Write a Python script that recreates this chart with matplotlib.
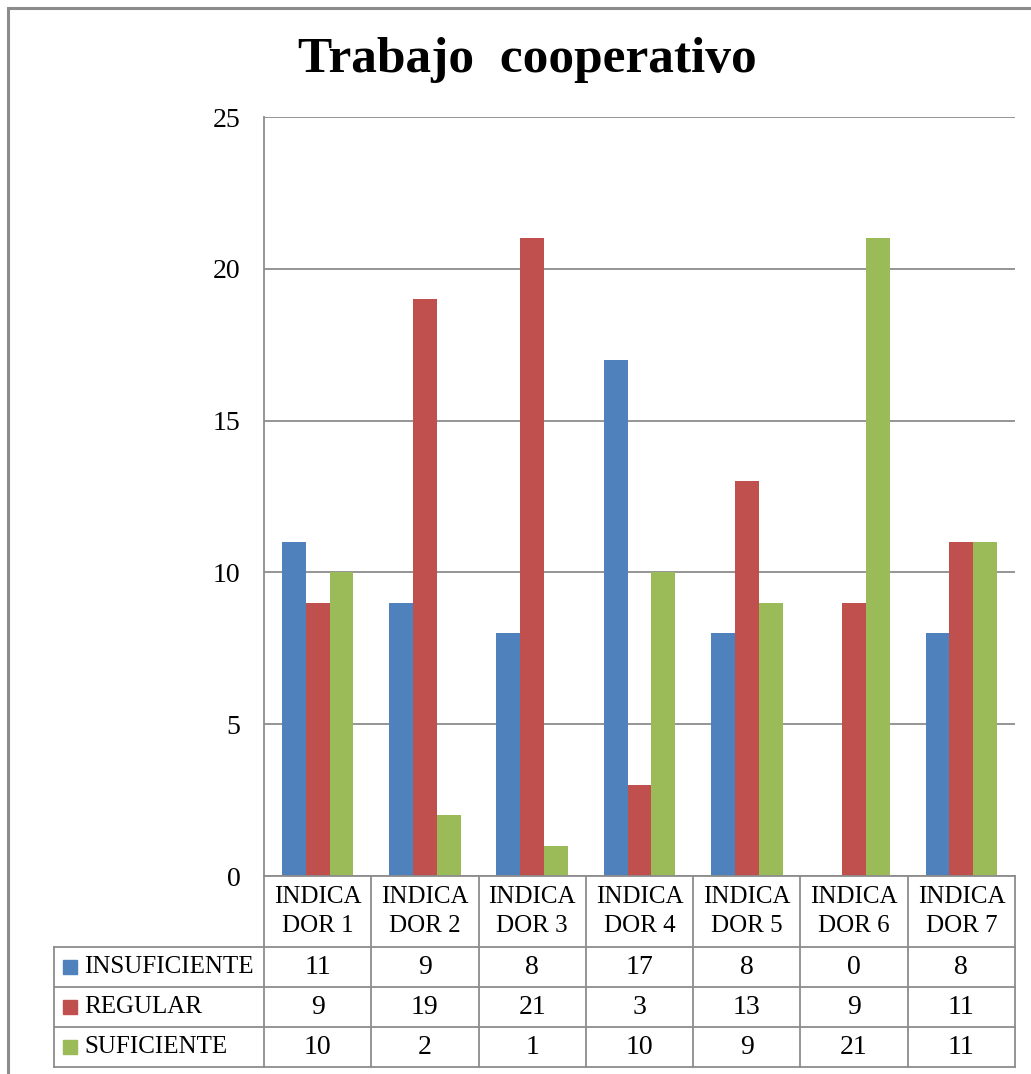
import matplotlib
matplotlib.use("Agg")
import matplotlib.pyplot as plt
import matplotlib.patches as mpatches
import numpy as np

# data
categories = ["INDICADOR 1", "INDICADOR 2", "INDICADOR 3", "INDICADOR 4",
              "INDICADOR 5", "INDICADOR 6", "INDICADOR 7"]
series_names = ["INSUFICIENTE", "REGULAR", "SUFICIENTE"]
insuficiente = [11, 9, 8, 17, 8, 0, 8]
regular = [9, 19, 21, 3, 13, 9, 11]
suficiente = [10, 2, 1, 10, 9, 21, 11]
colors = ["#4F81BD", "#C0504D", "#9BBB59"]
yticks = [0, 5, 10, 15, 20, 25]
title = "Trabajo  cooperativo"

plt.rcParams['font.family'] = ['Liberation Serif', 'DejaVu Serif']
W, H = 1031, 1074
fig = plt.figure(figsize=(W / 100, H / 100), dpi=100)
grid_c = "#8C8C8C"


def px_rect(x0, y0, x1, y1):
    """pixel box (top-left origin) -> figure fraction rect"""
    return [x0 / W, 1 - y1 / H, (x1 - x0) / W, (y1 - y0) / H]


# outer chart border (only left/top visible)
fig.patches.append(mpatches.Rectangle((8 / W, -0.1), 1.2, 1 - 8 / H + 0.1,
                                      transform=fig.transFigure, fill=False,
                                      edgecolor="#8C8C8C", linewidth=2.2))

fig.text(527 / W, 1 - 60 / H, title, ha="center", va="center",
         fontsize=37, fontweight="bold")

# bar chart
ax = fig.add_axes(px_rect(264, 117, 1015, 876))
x = np.arange(len(categories))
w = 0.222
for i, vals in enumerate([insuficiente, regular, suficiente]):
    ax.bar(x + (i - 1) * w, vals, width=w, color=colors[i], zorder=3)

ax.set_xlim(-0.5, len(categories) - 0.5)
ax.set_ylim(0, 25)
ax.set_yticks(yticks)
ax.set_yticklabels([str(t) for t in yticks], fontsize=20)
ax.tick_params(axis="y", length=0, pad=17)
ax.set_xticks([])
ax.yaxis.grid(True, color=grid_c, linewidth=1.3, zorder=0)
for s in ["top", "right", "bottom"]:
    ax.spines[s].set_visible(False)
ax.spines["left"].set_color(grid_c)
ax.spines["left"].set_linewidth(1.3)

# data table below
tab = fig.add_axes(px_rect(264, 876, 1015, 1068))
tab.set_xlim(-0.5, len(categories) - 0.5)
tab.set_ylim(192, 0)
tab.axis("off")
rows = [0, 71, 111, 151, 191]
left_x = -0.5 - 210 / 107.3
lk = dict(color=grid_c, linewidth=1.3, clip_on=False)

tab.plot([-0.5, len(categories) - 0.5], [rows[0], rows[0]], **lk)
for r in rows[1:]:
    tab.plot([left_x, len(categories) - 0.5], [r, r], **lk)
for c in range(len(categories) + 1):
    tab.plot([c - 0.5, c - 0.5], [rows[0], rows[-1]], **lk)
tab.plot([left_x, left_x], [rows[1], rows[-1]], **lk)

for j, cat in enumerate(categories):
    tab.text(j, (rows[0] + rows[1]) / 2, cat[:6] + "\n" + cat[6:],
             ha="center", va="center", fontsize=18, linespacing=1.4)

all_vals = [insuficiente, regular, suficiente]
for i, name in enumerate(series_names):
    yc = (rows[i + 1] + rows[i + 2]) / 2
    tab.add_patch(mpatches.Rectangle((left_x + 9 / 107.3, yc - 7), 14 / 107.3, 14,
                                     color=colors[i], clip_on=False))
    tab.text(left_x + 30 / 107.3, yc, name, ha="left", va="center", fontsize=18)
    for j, v in enumerate(all_vals[i]):
        tab.text(j, yc, str(v), ha="center", va="center", fontsize=20)

fig.savefig("out.png", dpi=100)
